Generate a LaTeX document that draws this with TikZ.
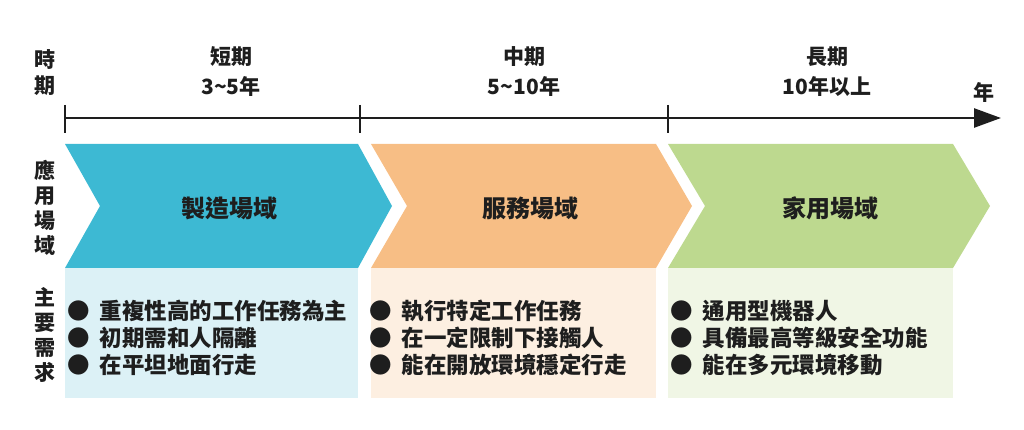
\documentclass[tikz,border=0pt]{standalone}
\usepackage{fontspec}
\usetikzlibrary{arrows.meta}
\newfontfamily\cjk{Noto Sans CJK TC}
\definecolor{bdark}{HTML}{3DB9D3}
\definecolor{odark}{HTML}{F7BE85}
\definecolor{gdark}{HTML}{BDD98F}
\definecolor{blight}{HTML}{DCF1F6}
\definecolor{olight}{HTML}{FDEFE1}
\definecolor{glight}{HTML}{F0F6E5}
\definecolor{ink}{HTML}{1E1E1E}
\tikzset{
  vlabel/.style={font=\cjk\bfseries\fontsize{21}{25}\selectfont, text=ink, align=center, inner sep=0pt},
  tlabel/.style={font=\cjk\bfseries\fontsize{21}{30}\selectfont, text=ink, align=center, inner sep=0pt},
  clabel/.style={font=\cjk\bfseries\fontsize{24}{28}\selectfont, text=ink, inner sep=0pt},
  blist/.style={font=\cjk\bfseries\fontsize{22.5}{27}\selectfont, text=ink, align=left, anchor=west, inner sep=0pt},
  tick/.style={line width=2.5pt, ink},
}
\begin{document}
\begin{tikzpicture}[x=1pt,y=-1pt]
\useasboundingbox (0,0) rectangle (1024,430);
% timeline
\coordinate (t0) at (65,118);
\coordinate (t1) at (360,118);
\coordinate (t2) at (668,118);
\coordinate (tend) at (1001,118);
\draw[line width=2.6pt, ink, -{Triangle[length=27pt,width=19pt]}] (t0) -- (tend);
\foreach \p in {t0,t1,t2} \draw[tick] ([yshift=13pt]\p) -- ([yshift=-15pt]\p);
% time labels
\node[vlabel, font=\cjk\bfseries\fontsize{21}{26}\selectfont] (shiqi) at (45,73) {時\\期};
\node[tlabel] (p1) at (231,72) {短期\\3\textasciitilde5年};
\node[tlabel] (p2) at (524,72) {中期\\5\textasciitilde10年};
\node[tlabel] (p3) at (827,72) {長期\\10年以上};
\node[tlabel] (nian) at (984,92) {年};
% chevrons
\fill[bdark] (65,144) -- (358,144) -- (392,206) -- (358,268) -- (65,268) -- (100,206) -- cycle;
\fill[odark] (371,144) -- (656,144) -- (692,206) -- (656,268) -- (371,268) -- (407,206) -- cycle;
\fill[gdark] (668,144) -- (953,144) -- (990,206) -- (953,268) -- (668,268) -- (705,206) -- cycle;
\node[clabel] (c1) at (229,208) {製造場域};
\node[clabel] (c2) at (530,208) {服務場域};
\node[clabel] (c3) at (830,208) {家用場域};
% lower boxes
\fill[blight] (65,268) rectangle (358,398);
\fill[olight] (371,268) rectangle (656,398);
\fill[glight] (668,268) rectangle (953,398);
% side labels
\node[vlabel] (yy) at (45,208) {應\\用\\場\\域};
\node[vlabel] (zy) at (45,335) {主\\要\\需\\求};
% lists
\node[blist] (l1) at (67,338) {●\hspace{0.45em}重複性高的工作任務為主\\●\hspace{0.45em}初期需和人隔離\\●\hspace{0.45em}在平坦地面行走};
\node[blist] (l2) at (369,338) {●\hspace{0.45em}執行特定工作任務\\●\hspace{0.45em}在一定限制下接觸人\\●\hspace{0.45em}能在開放環境穩定行走};
\node[blist] (l3) at (670,338) {●\hspace{0.45em}通用型機器人\\●\hspace{0.45em}具備最高等級安全功能\\●\hspace{0.45em}能在多元環境移動};
\end{tikzpicture}
\end{document}
